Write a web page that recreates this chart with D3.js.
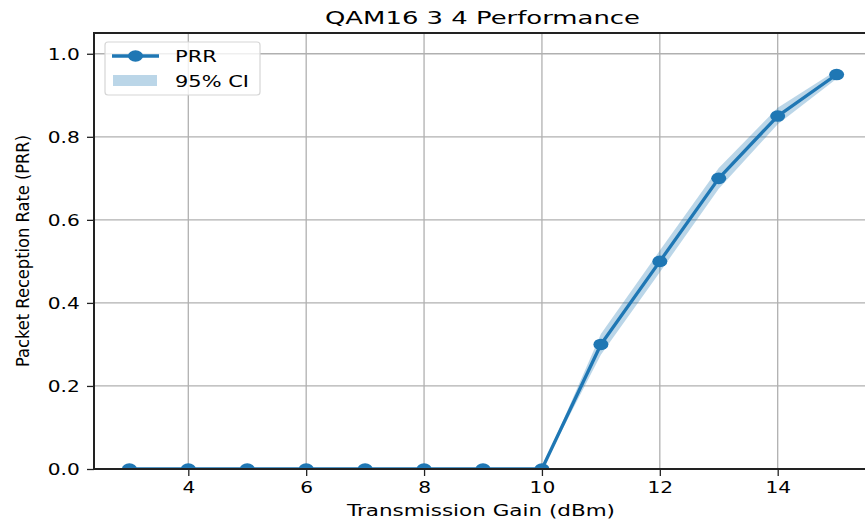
<!DOCTYPE html>
<html>
<head>
    <meta charset="utf-8">
    <title></title>
    <style>
        body { margin: 0; background: #fff; }
        text { font-family: "DejaVu Sans", sans-serif; fill: #000; }
        .grid line { stroke: #b0b0b0; stroke-width: 1.3px; }
    </style>
</head>
<body>
    <script src="https://cdn.jsdelivr.net/npm/d3@7"></script>
    <script>
        var gain = [3, 4, 5, 6, 7, 8, 9, 10, 11, 12, 13, 14, 15];
        var prr = [0, 0, 0, 0, 0, 0, 0, 0, 0.30, 0.50, 0.70, 0.85, 0.95];
        var ciLow = [0, 0, 0, 0, 0, 0, 0, 0, 0.275, 0.474, 0.675, 0.83, 0.94];
        var ciHigh = [0, 0, 0, 0, 0, 0, 0, 0, 0.325, 0.526, 0.725, 0.87, 0.96];
        var xTicks = [4, 6, 8, 10, 12, 14];
        var yTicks = [0, 0.2, 0.4, 0.6, 0.8, 1.0];

        var width = 865, height = 524;
        var mLeft = 94, mRight = 872, mTop = 33, mBottom = 469;
        var sx = 1.3; // horizontal stretch of the picture

        var data = gain.map(function(g, i) {
            return { x: g, y: prr[i], lo: ciLow[i], hi: ciHigh[i] };
        });

        var x = d3.scaleLinear().domain([2.4, 15.6]).range([mLeft, mRight]);
        var y = d3.scaleLinear().domain([0, 1.05]).range([mBottom, mTop]);

        var svg = d3.select("body").append("svg")
            .attr("width", width)
            .attr("height", height);

        svg.append("defs").append("clipPath").attr("id", "clip")
            .append("rect")
            .attr("x", mLeft).attr("y", mTop)
            .attr("width", mRight - mLeft).attr("height", mBottom - mTop);

        // grid
        var grid = svg.append("g").attr("class", "grid");
        grid.selectAll(".gx").data(xTicks).enter().append("line")
            .attr("x1", function(d) { return x(d); })
            .attr("x2", function(d) { return x(d); })
            .attr("y1", mTop).attr("y2", mBottom);
        grid.selectAll(".gy").data(yTicks).enter().append("line")
            .attr("x1", mLeft).attr("x2", mRight)
            .attr("y1", function(d) { return y(d); })
            .attr("y2", function(d) { return y(d); });

        var plot = svg.append("g").attr("clip-path", "url(#clip)");

        plot.append("path")
            .datum(data)
            .attr("fill", "#1f77b4")
            .attr("fill-opacity", 0.3)
            .attr("d", d3.area()
                .x(function(d) { return x(d.x); })
                .y0(function(d) { return y(d.lo); })
                .y1(function(d) { return y(d.hi); }));

        plot.append("path")
            .datum(data)
            .attr("fill", "none")
            .attr("stroke", "#1f77b4")
            .attr("stroke-width", 3.3)
            .attr("stroke-linejoin", "round")
            .attr("d", d3.line()
                .x(function(d) { return x(d.x); })
                .y(function(d) { return y(d.y); }));

        plot.selectAll("ellipse").data(data).enter().append("ellipse")
            .attr("cx", function(d) { return x(d.x); })
            .attr("cy", function(d) { return y(d.y); })
            .attr("rx", 7.5)
            .attr("ry", 5.8)
            .attr("fill", "#1f77b4");

        // axes
        var xAxis = svg.append("g")
            .attr("transform", "translate(0," + mBottom + ")")
            .call(d3.axisBottom(x).tickValues(xTicks).tickSize(7).tickPadding(4).tickFormat(d3.format("d")));
        var yAxis = svg.append("g")
            .attr("transform", "translate(" + mLeft + ",0)")
            .call(d3.axisLeft(y).tickValues(yTicks).tickSize(7).tickPadding(4).tickFormat(d3.format(".1f")));

        [xAxis, yAxis].forEach(function(a) {
            a.select(".domain").attr("stroke", "#222").attr("stroke-width", 2);
            a.selectAll(".tick line").attr("stroke", "#222").attr("stroke-width", 1.3);
            a.selectAll(".tick text")
                .attr("font-size", 15.5)
                .attr("font-family", "DejaVu Sans, sans-serif")
                .attr("fill", "#000");
        });
        xAxis.select(".domain").attr("d", "M" + mLeft + ",0H" + mRight);
        yAxis.select(".domain").attr("d", "M0," + mTop + "V" + mBottom);
        xAxis.selectAll(".tick text").attr("transform", "scale(" + sx + ",1)").attr("dy", "0.85em");
        yAxis.selectAll(".tick text").attr("x", -11).attr("transform", "scale(" + sx + ",1)").attr("dy", "0.36em");

        // top spine
        svg.append("line")
            .attr("x1", mLeft - 1).attr("x2", mRight)
            .attr("y1", mTop).attr("y2", mTop)
            .attr("stroke", "#222").attr("stroke-width", 2);

        // title and labels
        svg.append("text")
            .attr("x", 325).attr("y", 24)
            .attr("font-size", 17)
            .attr("textLength", 315)
            .attr("lengthAdjust", "spacingAndGlyphs")
            .text("QAM16 3 4 Performance");

        svg.append("text")
            .attr("x", 347).attr("y", 516)
            .attr("font-size", 15.5)
            .attr("textLength", 268)
            .attr("lengthAdjust", "spacingAndGlyphs")
            .text("Transmission Gain (dBm)");

        svg.append("text")
            .attr("transform", "translate(29,367) rotate(-90)")
            .attr("font-size", 18)
            .attr("textLength", 232)
            .attr("lengthAdjust", "spacingAndGlyphs")
            .text("Packet Reception Rate (PRR)");

        // legend
        var legend = svg.append("g");
        legend.append("rect")
            .attr("x", 105).attr("y", 42)
            .attr("width", 155).attr("height", 53)
            .attr("rx", 3)
            .attr("fill", "#fff").attr("fill-opacity", 0.8)
            .attr("stroke", "#d6d6d6").attr("stroke-width", 1.2);
        legend.append("line")
            .attr("x1", 112).attr("x2", 159)
            .attr("y1", 56).attr("y2", 56)
            .attr("stroke", "#1f77b4").attr("stroke-width", 3.3);
        legend.append("ellipse")
            .attr("cx", 135.5).attr("cy", 56)
            .attr("rx", 7.5).attr("ry", 5.8)
            .attr("fill", "#1f77b4");
        legend.append("rect")
            .attr("x", 113).attr("y", 75)
            .attr("width", 44).attr("height", 11)
            .attr("fill", "#1f77b4").attr("fill-opacity", 0.3);
        legend.append("text")
            .attr("x", 175).attr("y", 62)
            .attr("font-size", 15)
            .attr("textLength", 42)
            .attr("lengthAdjust", "spacingAndGlyphs")
            .text("PRR");
        legend.append("text")
            .attr("x", 175).attr("y", 87)
            .attr("font-size", 15)
            .attr("textLength", 74)
            .attr("lengthAdjust", "spacingAndGlyphs")
            .text("95% CI");
    </script>
</body>
</html>
